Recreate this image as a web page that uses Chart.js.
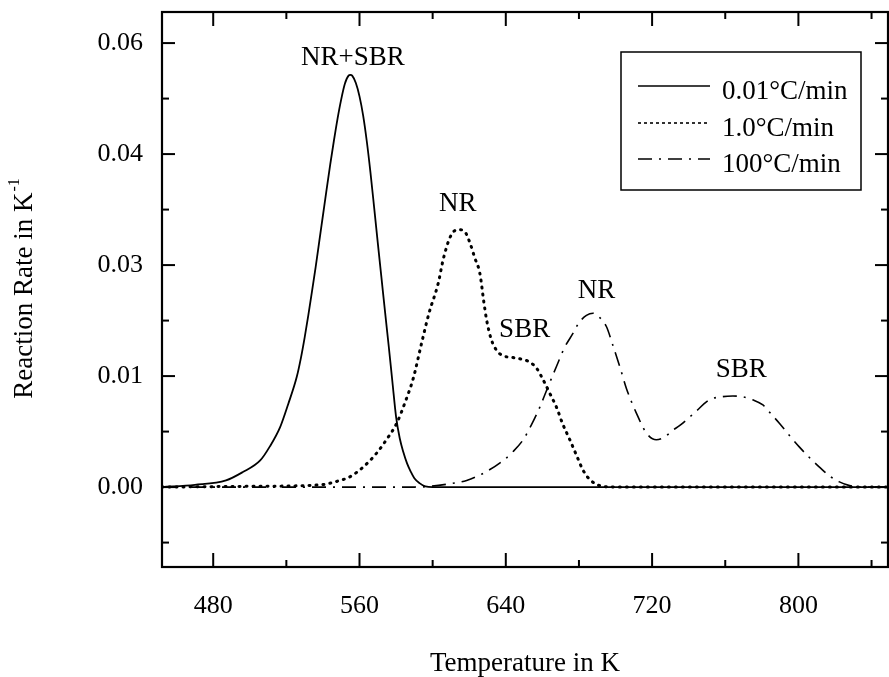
<!DOCTYPE html>
<html>
<head>
<meta charset="utf-8">
<title>Reaction rate vs temperature</title>
<script src="https://cdn.jsdelivr.net/npm/chart.js@4.4.1/dist/chart.umd.min.js"></script>
<style>
    html, body { margin: 0; padding: 0; background: #fff; }
    #wrap { width: 889px; height: 677px; }
</style>
</head>
<body>
<div id="wrap"><canvas id="rateChart" width="889" height="677"></canvas></div>
<script>
// --- Data ---
const seriesLabels = ['0.01\u00B0C/min', '1.0\u00B0C/min', '100\u00B0C/min'];

const tempSlow = [452, 470, 487, 496, 505.7, 511, 516.6, 521, 525.7, 528, 530, 532, 534, 536, 538, 540, 542, 544, 546, 548, 550, 552, 554, 555, 556, 558, 560, 562, 564, 566, 568, 570, 572, 574, 576, 578, 580, 582, 584, 586, 588, 590, 593, 596, 600, 849];
const rateSlow = [0, 0.0003, 0.0009, 0.002, 0.0036, 0.0055, 0.0081, 0.0112, 0.0149, 0.0175, 0.0202, 0.0232, 0.0264, 0.0297, 0.0332, 0.0367, 0.0402, 0.0436, 0.0468, 0.0498, 0.0524, 0.0545, 0.0556, 0.0557, 0.0556, 0.0546, 0.0528, 0.0502, 0.0467, 0.0425, 0.0378, 0.033, 0.0283, 0.0236, 0.019, 0.0142, 0.0095, 0.0066, 0.0047, 0.0032, 0.0021, 0.0012, 0.0005, 0.0001, 0, 0];

const tempMid = [452, 500, 538.4, 548, 554.8, 562, 569.4, 575, 580.3, 585, 589.4, 594, 598, 603, 606, 610, 614, 617.6, 620.4, 623, 625.8, 628, 629.5, 632, 634.9, 638, 644, 650, 653.1, 657, 660.4, 664, 667.7, 671, 675, 679, 682.2, 686, 691.4, 700, 849];
const rateMid = [0, 0.0001, 0.0003, 0.0008, 0.0014, 0.0027, 0.0046, 0.0065, 0.0086, 0.0115, 0.0147, 0.0195, 0.0235, 0.0275, 0.031, 0.034, 0.0348, 0.0345, 0.033, 0.031, 0.0289, 0.025, 0.0226, 0.020, 0.0185, 0.0178, 0.0175, 0.0172, 0.0169, 0.016, 0.0145, 0.0127, 0.0108, 0.0086, 0.0064, 0.0041, 0.0023, 0.001, 0.0002, 0, 0];

const tempFast = [452, 560, 590, 598.5, 608, 618.6, 628, 638.6, 644, 649.5, 654, 658.6, 663, 667.7, 672, 676.8, 680, 684.1, 687.7, 691, 695, 698.5, 702.3, 706, 711.4, 716.9, 722.3, 727, 731.4, 735, 743, 751.4, 758, 764.2, 769.6, 775, 780.6, 785, 789.7, 795, 800.6, 806, 811.5, 817, 822.4, 828, 833.4, 849];
const rateFast = [0, 0, 0, 0.0001, 0.0004, 0.0009, 0.0019, 0.0036, 0.0048, 0.0064, 0.0084, 0.0108, 0.0135, 0.0163, 0.0188, 0.0208, 0.0222, 0.0232, 0.0235, 0.0230, 0.0217, 0.0192, 0.0163, 0.0133, 0.010, 0.0073, 0.0064, 0.0068, 0.0077, 0.0083, 0.0100, 0.0118, 0.0122, 0.0123, 0.0122, 0.0118, 0.0111, 0.0099, 0.0086, 0.007, 0.0054, 0.004, 0.0027, 0.0015, 0.0007, 0.0002, 0, 0];

const xMajorTicks = [480, 560, 640, 720, 800];
const xMinorTicks = [520, 600, 680, 760, 840];
const yMajorTicks = [0, 0.015, 0.03, 0.045, 0.06];
const yTickLabels = ['0.00', '0.01', '0.03', '0.04', '0.06'];
const yMinorTicks = [-0.0075, 0.0075, 0.0225, 0.0375, 0.0525];

const peakNames = ['NR+SBR', 'NR', 'SBR', 'NR', 'SBR'];
const peakTemps = [556.4, 613.7, 650.3, 689.6, 768.8];
const peakRates = [0.058, 0.0382, 0.0212, 0.0265, 0.0158];

// --- Helpers ---
const SERIF = '"Liberation Serif", "Times New Roman", serif';
const toPoints = (xs, ys) => xs.map((t, i) => ({ x: t, y: ys[i] }));

const line = (ctx, x1, y1, x2, y2) => {
    ctx.beginPath();
    ctx.moveTo(x1, y1);
    ctx.lineTo(x2, y2);
    ctx.stroke();
};

// frame with inward ticks on all four sides
const frameTicks = {
    id: 'frameTicks',
    afterDatasetsDraw(chart) {
        const { ctx, chartArea: a, scales: { x, y } } = chart;
        ctx.save();
        ctx.strokeStyle = '#000';
        ctx.setLineDash([]);
        ctx.lineWidth = 2.2;
        ctx.strokeRect(a.left, a.top, a.right - a.left, a.bottom - a.top);
        ctx.lineWidth = 2;
        const xt = (vals, len) => vals.forEach(v => {
            const px = x.getPixelForValue(v);
            line(ctx, px, a.bottom, px, a.bottom - len);
            line(ctx, px, a.top, px, a.top + len);
        });
        const yt = (vals, len) => vals.forEach(v => {
            const py = y.getPixelForValue(v);
            line(ctx, a.left, py, a.left + len, py);
            line(ctx, a.right, py, a.right - len, py);
        });
        xt(xMajorTicks, 14); xt(xMinorTicks, 7);
        yt(yMajorTicks, 13); yt(yMinorTicks, 7);
        ctx.restore();
    }
};

// peak names, legend box and the y title
const decorations = {
    id: 'decorations',
    afterDraw(chart) {
        const { ctx, scales: { x, y } } = chart;
        ctx.save();
        ctx.fillStyle = '#000';
        ctx.font = '27px ' + SERIF;
        ctx.textAlign = 'center';
        ctx.textBaseline = 'middle';
        peakNames.forEach((name, i) => {
            ctx.fillText(name, x.getPixelForValue(peakTemps[i]), y.getPixelForValue(peakRates[i]));
        });

        // legend
        const box = { left: 621, top: 52, right: 861, bottom: 190 };
        ctx.fillStyle = '#fff';
        ctx.fillRect(box.left, box.top, box.right - box.left, box.bottom - box.top);
        ctx.strokeStyle = '#000';
        ctx.lineWidth = 1.5;
        ctx.strokeRect(box.left, box.top, box.right - box.left, box.bottom - box.top);
        const rows = [90, 127, 163];
        ctx.textAlign = 'left';
        ctx.font = '27px ' + SERIF;
        chart.data.datasets.forEach((ds, i) => {
            ctx.save();
            ctx.lineWidth = 1.6;
            ctx.setLineDash(ds.legendDash);
            line(ctx, 638, rows[i] - 4, 710, rows[i] - 4);
            ctx.restore();
            ctx.fillStyle = '#000';
            ctx.fillText(ds.label, 722, rows[i] + 2);
        });

        // y title with superscript
        ctx.translate(25, 289);
        ctx.rotate(-Math.PI / 2);
        ctx.font = '27px ' + SERIF;
        const main = 'Reaction Rate in K';
        const wMain = ctx.measureText(main).width;
        ctx.font = '16px ' + SERIF;
        const wSup = ctx.measureText('-1').width;
        const start = -(wMain + wSup) / 2;
        ctx.font = '27px ' + SERIF;
        ctx.fillText(main, start, 0);
        ctx.font = '16px ' + SERIF;
        ctx.fillText('-1', start + wMain + 1, -10);
        ctx.restore();
    }
};

// keep the plot box where the figure has it: no automatic label padding
const noPad = s => { s.paddingTop = 0; s.paddingBottom = 0; s.paddingLeft = 0; s.paddingRight = 0; };

document.addEventListener('DOMContentLoaded', () => {
    const ctx = document.getElementById('rateChart').getContext('2d');
    new Chart(ctx, {
        type: 'line',
        data: {
            datasets: [
                { label: seriesLabels[0], data: toPoints(tempSlow, rateSlow), borderColor: '#000', borderWidth: 1.8, borderDash: [], legendDash: [] },
                { label: seriesLabels[1], data: toPoints(tempMid, rateMid), borderColor: '#000', borderWidth: 3, borderDash: [1, 6], borderCapStyle: 'round', legendDash: [3, 3] },
                { label: seriesLabels[2], data: toPoints(tempFast, rateFast), borderColor: '#000', borderWidth: 1.6, borderDash: [14, 7, 2, 7], legendDash: [14, 7, 2, 7] }
            ]
        },
        options: {
            responsive: false,
            animation: false,
            events: [],
            layout: { padding: { top: 12, right: 1, bottom: 0, left: 0 } },
            elements: {
                point: { radius: 0 },
                line: { cubicInterpolationMode: 'monotone', fill: false }
            },
            plugins: { legend: { display: false }, tooltip: { enabled: false }, title: { display: false } },
            scales: {
                x: {
                    type: 'linear',
                    min: 452,
                    max: 849,
                    afterBuildTicks: s => { s.ticks = xMajorTicks.map(v => ({ value: v })); },
                    afterFit: s => { s.height = 110; noPad(s); },
                    ticks: { color: '#000', font: { family: SERIF, size: 26 }, padding: 24, maxRotation: 0, autoSkip: false },
                    grid: { display: false, drawTicks: false },
                    border: { display: false },
                    title: { display: true, text: 'Temperature in K', color: '#000', font: { family: SERIF, size: 27, lineHeight: 1 }, padding: 0 }
                },
                y: {
                    type: 'linear',
                    min: -0.0108,
                    max: 0.0642,
                    afterBuildTicks: s => { s.ticks = yMajorTicks.map(v => ({ value: v })); },
                    afterFit: s => { s.width = 162; noPad(s); },
                    ticks: {
                        color: '#000',
                        font: { family: SERIF, size: 26 },
                        padding: 19,
                        callback: v => yTickLabels[yMajorTicks.findIndex(t => Math.abs(t - v) < 1e-9)]
                    },
                    grid: { display: false, drawTicks: false },
                    border: { display: false }
                }
            }
        },
        plugins: [frameTicks, decorations]
    });
});
</script>
</body>
</html>
